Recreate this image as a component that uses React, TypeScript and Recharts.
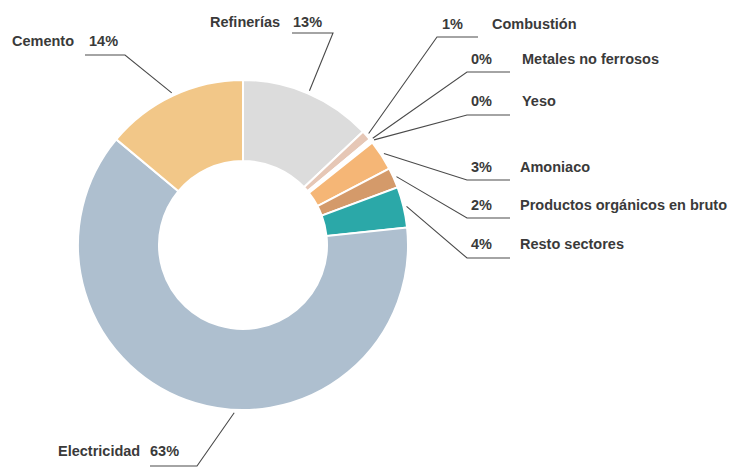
import React from "react";
import { PieChart, Pie, Cell } from "recharts";

// emisiones por sector (%), en sentido horario desde arriba
const sectors = [
  "Refinerías",
  "Combustión",
  "Metales no ferrosos",
  "Yeso",
  "Amoniaco",
  "Productos orgánicos en bruto",
  "Resto sectores",
  "Electricidad",
  "Cemento",
];
const shares = [13, 1, 0.2, 0.2, 3, 2, 4, 63, 14];
const shareLabels = ["13%", "1%", "0%", "0%", "3%", "2%", "4%", "63%", "14%"];
const colors = [
  "#dcdcdc",
  "#e6c7b6",
  "#f7e9df",
  "#f7e9df",
  "#f5b676",
  "#d49a6a",
  "#2ba8a8",
  "#aebfcf",
  "#f2c788",
];

const data = sectors.map((name, i) => ({ name, value: shares[i] }));

// label layout: leader elbow / end, text positions
type Layout = {
  elbow: [number, number];
  end: [number, number];
  nameX: number;
  pctX: number;
  baseY: number;
  angle?: number;
};
const layouts: Layout[] = [
  { elbow: [333, 33], end: [292, 33], nameX: 210, pctX: 293, baseY: 27 },
  { elbow: [437, 37], end: [478, 37], nameX: 492, pctX: 442, baseY: 29 },
  { elbow: [467, 72], end: [510, 72], nameX: 522, pctX: 471, baseY: 64 },
  { elbow: [467, 115], end: [510, 115], nameX: 522, pctX: 471, baseY: 106 },
  { elbow: [467, 180], end: [510, 180], nameX: 520, pctX: 471, baseY: 172 },
  { elbow: [467, 218], end: [510, 218], nameX: 520, pctX: 471, baseY: 210 },
  { elbow: [467, 258], end: [510, 258], nameX: 520, pctX: 471, baseY: 249 },
  { elbow: [197, 466], end: [150, 466], nameX: 58, pctX: 150, baseY: 456, angle: -93 },
  { elbow: [125, 55], end: [85, 55], nameX: 12, pctX: 89, baseY: 46 },
];

const RAD = Math.PI / 180;
const textStyle = {
  fontFamily: "'Liberation Sans', Arial, sans-serif",
  fontSize: 14.5,
  fontWeight: 700,
  fill: "#3a3a3a",
};

function renderLabel(props: any) {
  const { cx, cy, midAngle, outerRadius, index } = props;
  const l = layouts[index];
  const a = (l.angle ?? midAngle) * RAD;
  const r = outerRadius + 3;
  const sx = cx + r * Math.cos(a);
  const sy = cy - r * Math.sin(a);
  return (
    <g key={`lbl-${index}`}>
      <polyline
        points={`${sx},${sy} ${l.elbow[0]},${l.elbow[1]} ${l.end[0]},${l.end[1]}`}
        fill="none"
        stroke="#4a4a4a"
        strokeWidth={1.1}
      />
      <text x={l.nameX} y={l.baseY} {...textStyle}>
        {sectors[index]}
      </text>
      <text x={l.pctX} y={l.baseY} {...textStyle}>
        {shareLabels[index]}
      </text>
    </g>
  );
}

export default function App() {
  return (
    <div style={{ position: "absolute", left: 0, top: 0, width: 736, height: 467, background: "#fff" }}>
      <PieChart width={736} height={467}>
        <Pie
          data={data}
          dataKey="value"
          nameKey="name"
          cx={238}
          cy={240}
          innerRadius={84}
          outerRadius={165}
          startAngle={90}
          endAngle={-270}
          stroke="#fff"
          strokeWidth={2}
          label={renderLabel}
          labelLine={false}
          isAnimationActive={false}
        >
          {data.map((d, i) => (
            <Cell key={d.name} fill={colors[i]} />
          ))}
        </Pie>
      </PieChart>
    </div>
  );
}
